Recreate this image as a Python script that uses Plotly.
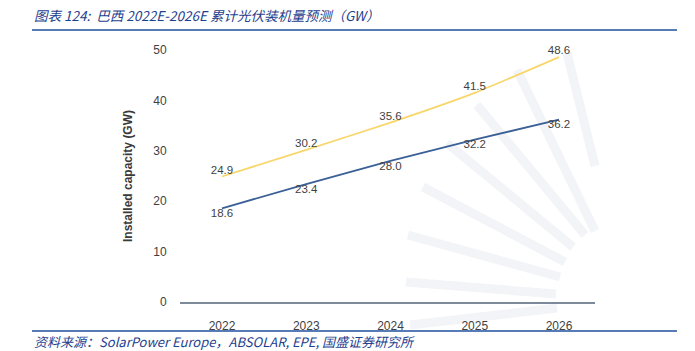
import plotly.graph_objects as go

years = [2022, 2023, 2024, 2025, 2026]
year_labels = ["2022", "2023", "2024", "2025", "2026"]
upper_series = [24.9, 30.2, 35.6, 41.5, 48.6]
lower_series = [18.6, 23.4, 28.0, 32.2, 36.2]
y_ticks = [0, 10, 20, 30, 40, 50]

W, H = 695, 351
L, R, T, B = 180, 100, 40, 49
PW, PH = W - L - R, H - T - B


def px(x):
    return (x - L) / PW


def py(y):
    return (H - B - y) / PH


fig = go.Figure()
fig.add_trace(go.Scatter(
    x=years, y=upper_series, mode="lines+text",
    line=dict(color="#f9d66b", width=1.8, shape="spline", smoothing=0.5),
    text=[f"{v:.1f}" for v in upper_series], textposition="top center",
    textfont=dict(size=11.5, color="#3f3f3f", family="Liberation Sans"),
    cliponaxis=False, showlegend=False,
))
fig.add_trace(go.Scatter(
    x=years, y=lower_series, mode="lines+text",
    line=dict(color="#3b6096", width=1.8),
    text=[f"{v:.1f}" for v in lower_series], textposition="bottom center",
    textfont=dict(size=11.5, color="#3f3f3f", family="Liberation Sans"),
    cliponaxis=False, showlegend=False,
))

shapes = []
rays = [
    ((423, 187), (565, 262)),
    ((447, 143), (573, 247)),
    ((477, 105), (585, 235)),
    ((517, 70), (595, 231)),
    ((567, 53), (595, 166)),
    ((408, 235), (560, 277)),
    ((406, 282), (556, 294)),
    ((410, 325), (557, 308)),
]
for (x0, y0), (x1, y1) in rays:
    shapes.append(dict(type="line", xref="paper", yref="paper",
                       x0=px(x0), y0=py(y0), x1=px(x1), y1=py(y1),
                       line=dict(color="#f3f4f7", width=9), layer="below"))
# header / footer rules
shapes.append(dict(type="line", xref="paper", yref="paper",
                   x0=px(32), x1=px(677), y0=py(30), y1=py(30),
                   line=dict(color="#1f4f9f", width=1.5)))
shapes.append(dict(type="line", xref="paper", yref="paper",
                   x0=px(32), x1=px(677), y0=py(331), y1=py(331),
                   line=dict(color="#1f4f9f", width=1.5)))

annotations = [
    dict(text="图表 124:  巴西 2022E-2026E 累计光伏装机量预测（GW）",
         xref="paper", yref="paper", x=px(32), y=py(15),
         xanchor="left", yanchor="middle", showarrow=False,
         font=dict(size=13.5, color="#1f3f8f", family="Noto Sans CJK SC, sans-serif", style="italic")),
    dict(text="资料来源：SolarPower Europe，ABSOLAR, EPE, 国盛证券研究所",
         xref="paper", yref="paper", x=px(32), y=py(341),
         xanchor="left", yanchor="middle", showarrow=False,
         font=dict(size=13, color="#1f3f8f", family="Noto Sans CJK SC, sans-serif", style="italic")),
    dict(text="<b>Installed capacity (GW)</b>",
         xref="paper", yref="paper", x=px(128), y=py(176),
         xanchor="center", yanchor="middle", showarrow=False, textangle=-90,
         font=dict(size=12, color="#3a3a3a", family="Liberation Sans")),
]

fig.update_layout(
    width=W, height=H,
    margin=dict(l=L, r=R, t=T, b=B),
    paper_bgcolor="white", plot_bgcolor="rgba(0,0,0,0)",
    shapes=shapes, annotations=annotations,
    xaxis=dict(range=[2022 - 42 / 84.25, 2022 + (595 - 222) / 84.25],
               tickvals=years, ticktext=year_labels,
               showgrid=False, zeroline=False,
               showline=True, linecolor="#7d8a9a", linewidth=1.5,
               ticks="outside", ticklen=12, tickcolor="rgba(0,0,0,0)",
               tickfont=dict(size=12, color="#3f3f3f", family="Liberation Sans")),
    yaxis=dict(range=[0, PH / 5.04], tickvals=y_ticks,
               showgrid=False, zeroline=False, showline=False,
               ticks="outside", ticklen=10, tickcolor="rgba(0,0,0,0)",
               tickfont=dict(size=12, color="#3f3f3f", family="Liberation Sans")),
)

fig.write_html("out.html")
